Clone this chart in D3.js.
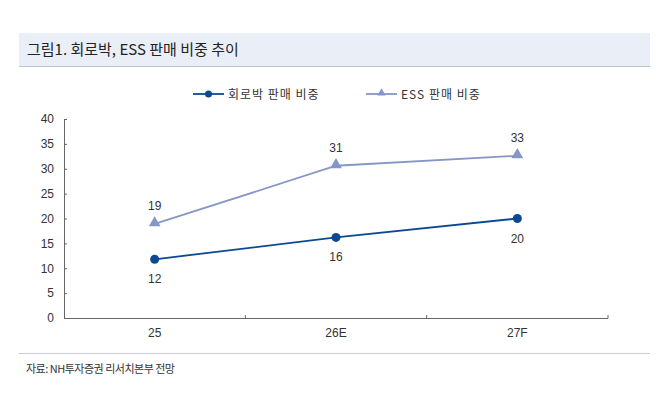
<!DOCTYPE html>
<html>
<head>
<meta charset="utf-8">
<script src="https://cdn.jsdelivr.net/npm/d3@7"></script>
<style>
  html, body { margin: 0; padding: 0; background: #fff; }
  svg { display: block; font-family: "Liberation Sans", Arial, "Noto Sans CJK KR", sans-serif; }
</style>
</head>
<body>
<div id="chart"></div>
<script>
// Data
const categories = ['25', '26E', '27F'];
const foilShare = [11.8, 16.2, 20.0];   // 회로박 판매 비중
const essShare = [18.9, 30.6, 32.6];    // ESS 판매 비중
const foilLabels = ['12', '16', '20'];
const essLabels = ['19', '31', '33'];
const yTicks = [0, 5, 10, 15, 20, 25, 30, 35, 40];

const width = 670, height = 407;
const margin = { left: 64, right: 62, top: 119, bottom: 89 };

const svg = d3.select('#chart').append('svg')
    .attr('width', width)
    .attr('height', height);

// Title band
svg.append('rect')
    .attr('x', 19).attr('y', 33)
    .attr('width', 631).attr('height', 33)
    .attr('fill', '#eaeff7');
svg.append('line')
    .attr('x1', 19).attr('x2', 650)
    .attr('y1', 66.5).attr('y2', 66.5)
    .attr('stroke', '#bfc3c9').attr('stroke-width', 1);
svg.append('text')
    .attr('x', 27).attr('y', 55)
    .attr('font-family', '"Noto Sans CJK KR", sans-serif')
    .attr('font-size', 15)
    .attr('font-weight', 400)
    .attr('fill', '#222')
    .text('그림1. 회로박, ESS 판매 비중 추이');

// Scales
const x = d3.scaleBand()
    .domain(categories)
    .range([margin.left, width - margin.right]);
const y = d3.scaleLinear()
    .domain([0, 40])
    .range([height - margin.bottom, margin.top]);

const axisColor = '#666';
const textColor = '#333';

// Y axis (ticks inside)
const yAxis = svg.append('g')
    .attr('transform', `translate(${margin.left},0)`)
    .call(d3.axisLeft(y).tickValues(yTicks).tickSize(-3).tickPadding(10));
yAxis.select('.domain').attr('stroke', axisColor);
yAxis.selectAll('.tick line').attr('stroke', axisColor);
yAxis.selectAll('.tick text')
    .attr('fill', textColor)
    .attr('font-size', 12);

// X axis with ticks at category boundaries, pointing up
const xAxisG = svg.append('g')
    .attr('transform', `translate(0,${y(0)})`);
xAxisG.append('line')
    .attr('x1', margin.left).attr('x2', width - margin.right)
    .attr('y1', 0.5).attr('y2', 0.5)
    .attr('stroke', axisColor);
const bounds = categories.map(c => x(c) + x.bandwidth());
xAxisG.selectAll('line.tick')
    .data(bounds)
    .join('line')
    .attr('class', 'tick')
    .attr('x1', d => d).attr('x2', d => d)
    .attr('y1', 0.5).attr('y2', -3)
    .attr('stroke', axisColor);
xAxisG.selectAll('text')
    .data(categories)
    .join('text')
    .attr('x', d => x(d) + x.bandwidth() / 2)
    .attr('y', 19)
    .attr('text-anchor', 'middle')
    .attr('font-size', 12)
    .attr('fill', textColor)
    .text(d => d);

const cx = c => x(c) + x.bandwidth() / 2;
const foilColor = '#0b4a93';
const essColor = '#8497c6';

const line = d3.line()
    .x((d, i) => cx(categories[i]))
    .y(d => y(d));

// ESS series
svg.append('path')
    .datum(essShare)
    .attr('d', line)
    .attr('fill', 'none')
    .attr('stroke', essColor)
    .attr('stroke-width', 1.8);
const tri = d3.symbol().type(d3.symbolTriangle).size(60);
svg.selectAll('path.ess-pt')
    .data(essShare)
    .join('path')
    .attr('class', 'ess-pt')
    .attr('d', tri)
    .attr('transform', (d, i) => `translate(${cx(categories[i])},${y(d) - 1})`)
    .attr('fill', essColor);
svg.selectAll('text.ess-lbl')
    .data(essShare)
    .join('text')
    .attr('class', 'ess-lbl')
    .attr('x', (d, i) => cx(categories[i]))
    .attr('y', d => y(d) - 14)
    .attr('text-anchor', 'middle')
    .attr('font-size', 12)
    .attr('fill', textColor)
    .text((d, i) => essLabels[i]);

// 회로박 series
svg.append('path')
    .datum(foilShare)
    .attr('d', line)
    .attr('fill', 'none')
    .attr('stroke', foilColor)
    .attr('stroke-width', 1.8);
svg.selectAll('circle.foil-pt')
    .data(foilShare)
    .join('circle')
    .attr('class', 'foil-pt')
    .attr('cx', (d, i) => cx(categories[i]))
    .attr('cy', d => y(d))
    .attr('r', 4.5)
    .attr('fill', foilColor);
svg.selectAll('text.foil-lbl')
    .data(foilShare)
    .join('text')
    .attr('class', 'foil-lbl')
    .attr('x', (d, i) => cx(categories[i]))
    .attr('y', d => y(d) + 24)
    .attr('text-anchor', 'middle')
    .attr('font-size', 12)
    .attr('fill', textColor)
    .text((d, i) => foilLabels[i]);

// Legend
const legend = [
    { name: '회로박 판매 비중', color: foilColor, shape: 'circle', x: 193 },
    { name: 'ESS 판매 비중', color: essColor, shape: 'triangle', x: 366 }
];
const lg = svg.selectAll('g.legend')
    .data(legend)
    .join('g')
    .attr('class', 'legend')
    .attr('transform', d => `translate(${d.x},94)`);
lg.append('line')
    .attr('x1', 0).attr('x2', 31)
    .attr('stroke', d => d.color)
    .attr('stroke-width', 1.8);
lg.each(function(d) {
    const g = d3.select(this);
    if (d.shape === 'circle') {
        g.append('circle').attr('cx', 15.5).attr('r', 3.5).attr('fill', d.color);
    } else {
        g.append('path').attr('d', d3.symbol().type(d3.symbolTriangle).size(30))
            .attr('transform', 'translate(15.5,-1)').attr('fill', d.color);
    }
});
lg.append('text')
    .attr('x', 35).attr('y', 4.5)
    .attr('font-family', '"Noto Sans CJK KR", sans-serif')
    .attr('font-size', 12)
    .attr('letter-spacing', 1)
    .attr('fill', textColor)
    .text(d => d.name);

// Bottom separator and source
svg.append('line')
    .attr('x1', 19).attr('x2', 650)
    .attr('y1', 353.5).attr('y2', 353.5)
    .attr('stroke', '#c8cbd0');
svg.append('text')
    .attr('x', 26).attr('y', 373)
    .attr('font-family', '"Noto Sans CJK KR", sans-serif')
    .attr('font-size', 11)
    .attr('letter-spacing', -0.5)
    .attr('fill', textColor)
    .text('자료: NH투자증권 리서치본부 전망');
</script>
</body>
</html>
